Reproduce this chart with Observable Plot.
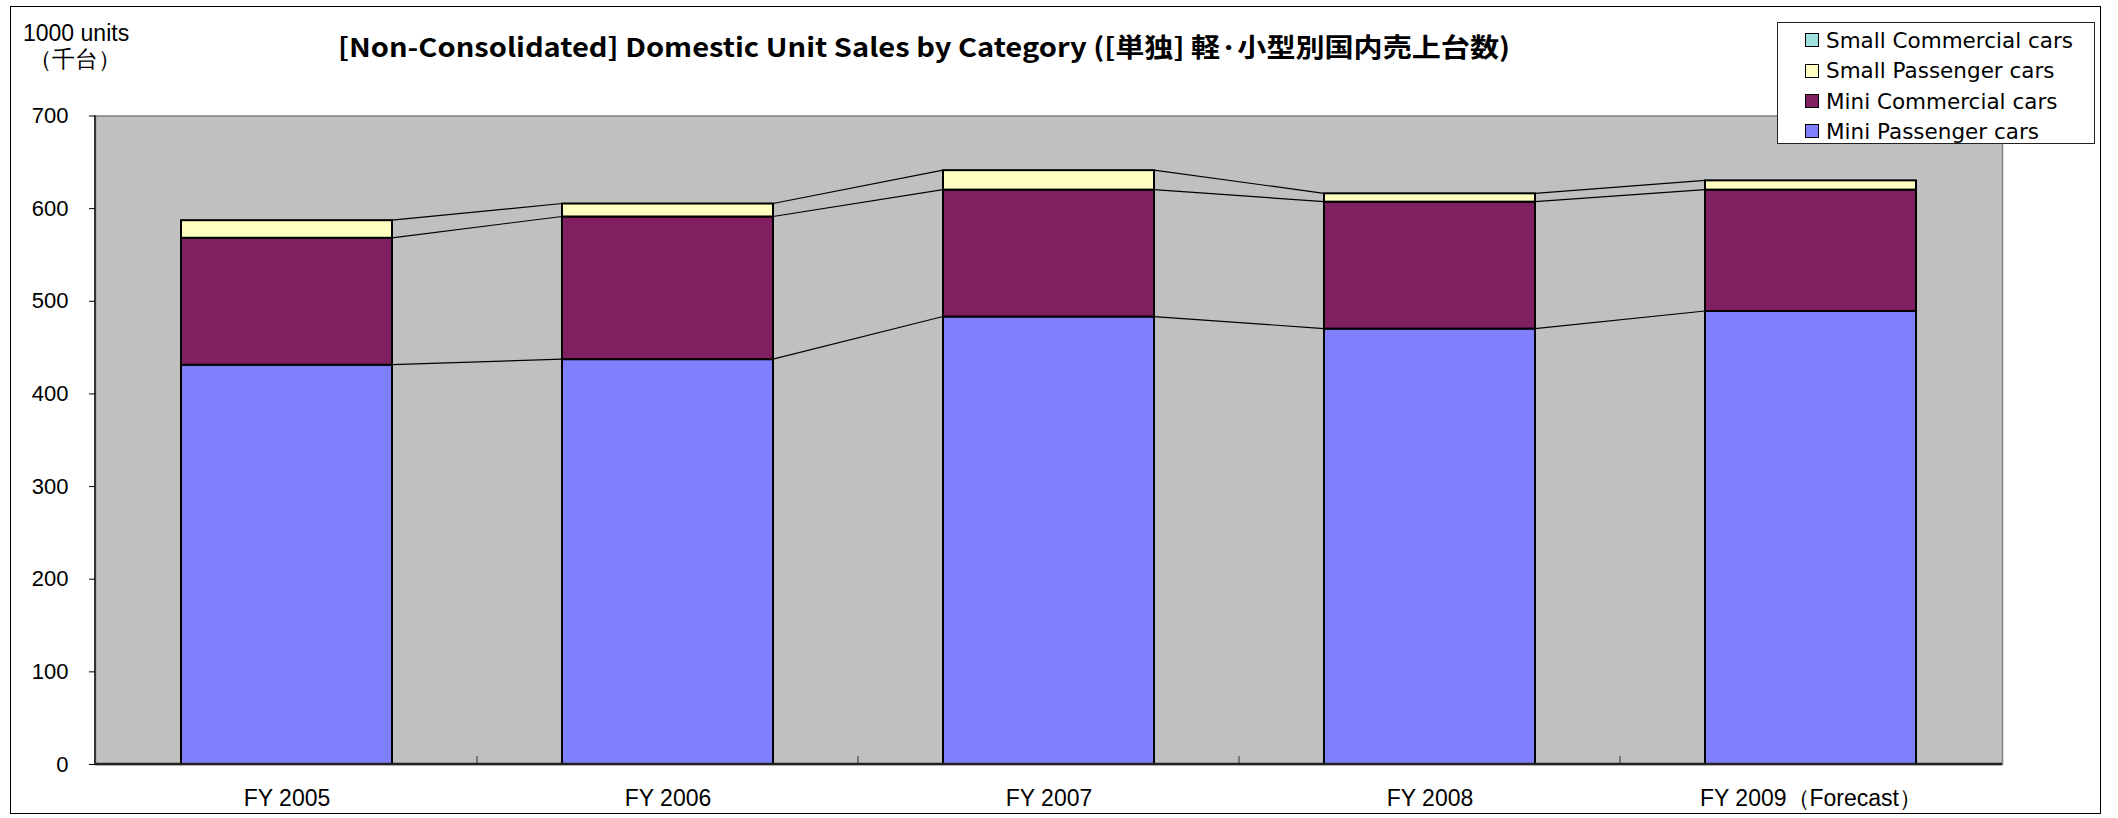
<!DOCTYPE html>
<html><head><meta charset="utf-8">
<script src="https://cdn.jsdelivr.net/npm/d3@7"></script>
<script src="https://cdn.jsdelivr.net/npm/@observablehq/plot@0.6"></script>
<style>
html,body{margin:0;padding:0;background:#fff;overflow:hidden;}
#wrap{position:relative;width:2118px;height:818px;}
#border{position:absolute;left:10px;top:6px;width:2091px;height:808px;border:1.5px solid #000;box-sizing:border-box;pointer-events:none;}
#chart{position:absolute;left:0;top:0;}
#unit{position:absolute;left:23px;top:20px;font-family:"Liberation Sans",Arial,sans-serif;font-size:23px;line-height:26px;color:#000;white-space:nowrap;}
#title{position:absolute;left:338px;top:30px;font-family:"Noto Sans CJK JP",sans-serif;font-weight:bold;font-size:26px;line-height:32px;color:#000;white-space:nowrap;transform-origin:0 50%;}
#legend{position:absolute;left:1777px;top:22px;width:318px;height:122px;border:1.5px solid #222;box-sizing:border-box;background:#fff;font-family:"DejaVu Sans",sans-serif;font-size:21.5px;color:#000;}
.lrow{position:absolute;left:27px;height:30px;display:flex;align-items:center;white-space:nowrap;}
.sw{width:14px;height:14px;border:1.5px solid #000;margin-right:7px;box-sizing:border-box;}
</style></head><body>
<div id="wrap">
  <div id="chart"></div>
  <div id="unit">1000 units<br>&nbsp;（千台）</div>
  <div id="title">[Non-Consolidated] Domestic Unit Sales by Category ([単独] 軽·小型別国内売上台数)</div>
  <div id="legend"></div>
  <div id="border"></div>
</div>
<script>
// ---- data ----
const years = ["FY 2005", "FY 2006", "FY 2007", "FY 2008", "FY 2009（Forecast）"];
const seriesNames = ["Mini Passenger cars", "Mini Commercial cars", "Small Passenger cars", "Small Commercial cars"];
const miniPassenger   = [431, 437, 483, 470, 489];
const miniCommercial  = [137, 154, 137, 137, 131];
const smallPassenger  = [19, 14, 21, 9, 10];
const smallCommercial = [0, 0, 0, 0, 0];
const seriesColors = ["#8080FF", "#802060", "#FFFFC0", "#A0E0E0"];
const yTicks = [0, 100, 200, 300, 400, 500, 600, 700];

const seriesValues = [miniPassenger, miniCommercial, smallPassenger, smallCommercial];
const rows = [];
seriesNames.forEach((s, si) => years.forEach((yr, i) => rows.push({year: yr, series: s, value: seriesValues[si][i]})));

// cumulative levels for series lines
const levels = [];
let acc = years.map(() => 0);
for (let si = 0; si < 3; si++) {
  acc = acc.map((a, i) => a + seriesValues[si][i]);
  levels.push(acc.slice());
}

function seriesLines(index, scales, values, dims) {
  const x = scales.x, y = scales.y;
  const bw = typeof x.bandwidth === "function" ? x.bandwidth() : x.bandwidth;
  const g = d3.create("svg:g");
  for (const lv of levels) {
    for (let i = 0; i < years.length - 1; i++) {
      g.append("line")
        .attr("x1", x(years[i]) + bw).attr("y1", y(lv[i]))
        .attr("x2", x(years[i + 1])).attr("y2", y(lv[i + 1]))
        .attr("stroke", "#000").attr("stroke-width", 1.2);
    }
  }
  // category boundary ticks
  for (let i = 1; i < years.length; i++) {
    const bx = (x(years[i - 1]) + bw + x(years[i])) / 2;
    g.append("line").attr("x1", bx).attr("x2", bx)
      .attr("y1", y(0)).attr("y2", y(0) - 8)
      .attr("stroke", "#333").attr("stroke-width", 1);
  }
  // axis lines
  g.append("line").attr("x1", dims.marginLeft).attr("x2", dims.marginLeft)
    .attr("y1", dims.marginTop).attr("y2", dims.height - dims.marginBottom + 1)
    .attr("stroke", "#333").attr("stroke-width", 2);
  g.append("line").attr("x1", dims.marginLeft).attr("x2", dims.width - dims.marginRight)
    .attr("y1", y(0)).attr("y2", y(0))
    .attr("stroke", "#222").attr("stroke-width", 2.5);
  return g.node();
}

const chart = Plot.plot({
  width: 2118,
  height: 818,
  marginLeft: 95,
  marginRight: 116,
  marginTop: 115.5,
  marginBottom: 54,
  style: {fontFamily: "'Liberation Sans', Arial, sans-serif", fontSize: "22px", color: "#000", background: "transparent"},
  x: {domain: years, paddingInner: 0.445, paddingOuter: 0.2225, label: null},
  y: {domain: [0, 700], label: null},
  color: {domain: seriesNames, range: seriesColors},
  marks: [
    Plot.frame({fill: "#C0C0C0", stroke: "#808080", strokeWidth: 1.5}),
    Plot.barY(rows, Plot.stackY({order: seriesNames, x: "year", y: "value", z: "series", fill: "series", stroke: "#000", strokeWidth: 2})),
    seriesLines,
    Plot.axisY({ticks: yTicks, tickSize: 6, tickPadding: 21, fontSize: 22, tickFormat: d => String(d)}),
    Plot.axisX({tickSize: 0, tickPadding: 25, fontSize: 23})
  ]
});
document.getElementById("chart").appendChild(chart);

// legend (top to bottom: reverse stacking order)
const legend = document.getElementById("legend");
const legendOrder = seriesNames.map((s, i) => i).reverse();
const rowTops = [2, 32.5, 63, 93];
legendOrder.forEach((si, k) => {
  const r = document.createElement("div");
  r.className = "lrow";
  r.style.top = rowTops[k] + "px";
  const sw = document.createElement("div");
  sw.className = "sw";
  sw.style.background = seriesColors[si];
  const t = document.createElement("span");
  t.textContent = seriesNames[si];
  r.appendChild(sw); r.appendChild(t);
  legend.appendChild(r);
});

// fit title width to reference span
const title = document.getElementById("title");
const w = title.getBoundingClientRect().width;
title.style.transform = `scaleX(${1172 / w})`;
</script>
</body></html>
